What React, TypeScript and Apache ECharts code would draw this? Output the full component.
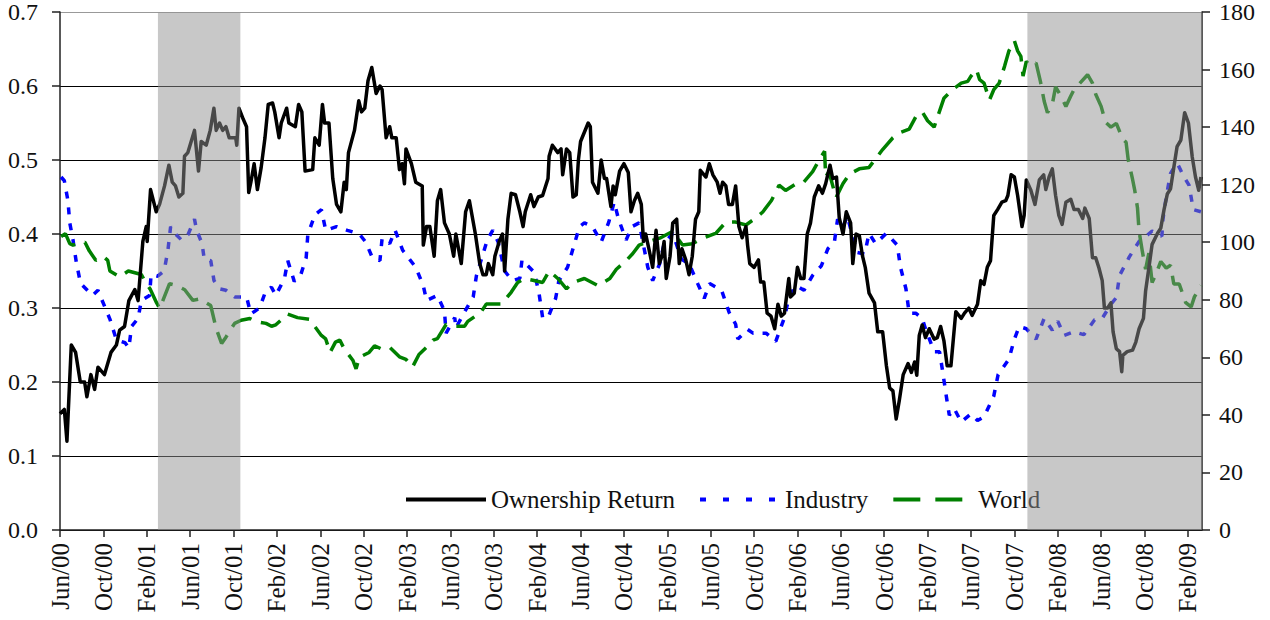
import React, { useEffect, useRef } from 'react';
import * as echarts from 'echarts';

// x values are months elapsed since June 2000 (0 = Jun/00)
const MONTH_NAMES = ['Jan', 'Feb', 'Mar', 'Apr', 'May', 'Jun', 'Jul', 'Aug', 'Sep', 'Oct', 'Nov', 'Dec'];
const START_YEAR = 2000;
const START_MONTH = 5; // June
const X_MAX = 105.3;
const LABEL_STEP = 4;

const leftTicks = { min: 0, max: 0.7, interval: 0.1 };
const rightTicks = { min: 0, max: 180, interval: 20 };

// Recession periods (shaded), in months since Jun/00
const recessionStart = [9.03, 89.2];
const recessionEnd = [16.63, 105.3];

// Ownership Return (left axis)
const ownershipReturn: [number, number][] = [
  [0, 0.157], [0.4, 0.163], [0.64, 0.12], [1.04, 0.25], [1.44, 0.24], [1.87, 0.2], [2.27, 0.2], [2.48, 0.18],
  [2.85, 0.21], [3.19, 0.19], [3.5, 0.22], [4.1, 0.21], [4.7, 0.24], [5.2, 0.25], [5.5, 0.27], [5.95, 0.275],
  [6.35, 0.31], [6.9, 0.325], [7.2, 0.31], [7.64, 0.39], [7.95, 0.41], [8.04, 0.39], [8.35, 0.46], [8.87, 0.43],
  [9.18, 0.44], [9.64, 0.465], [10.04, 0.493], [10.35, 0.47], [10.65, 0.465], [10.96, 0.45], [11.33, 0.455],
  [11.48, 0.505], [11.79, 0.51], [12.4, 0.54], [12.77, 0.485], [13.02, 0.525], [13.48, 0.52], [13.85, 0.54],
  [14.19, 0.57], [14.4, 0.54], [14.71, 0.55], [15.0, 0.54], [15.3, 0.545], [15.6, 0.53], [16.2, 0.53], [16.3, 0.52],
  [16.5, 0.57], [16.9, 0.555], [17.2, 0.545], [17.4, 0.456], [17.6, 0.47], [17.9, 0.495], [18.2, 0.46], [18.55, 0.49],
  [18.9, 0.53], [19.2, 0.575], [19.6, 0.577], [19.8, 0.565], [20.2, 0.53], [20.4, 0.55], [20.9, 0.57], [21.1, 0.55],
  [21.7, 0.545], [22.0, 0.575], [22.3, 0.565], [22.6, 0.485], [23.3, 0.487], [23.5, 0.53], [23.9, 0.52], [24.2, 0.575],
  [24.4, 0.55], [24.8, 0.55], [25.15, 0.475], [25.5, 0.44], [25.9, 0.43], [26.2, 0.47], [26.4, 0.46], [26.6, 0.51],
  [27.15, 0.54], [27.55, 0.58], [27.8, 0.565], [28.1, 0.57], [28.4, 0.607], [28.75, 0.625], [29.15, 0.59], [29.5, 0.6],
  [29.7, 0.595], [30.07, 0.53], [30.4, 0.545], [30.6, 0.53], [31.0, 0.53], [31.3, 0.487], [31.55, 0.495], [31.76, 0.468],
  [31.9, 0.515], [32.4, 0.495], [32.8, 0.47], [33.4, 0.465], [33.5, 0.385], [33.8, 0.41], [34.1, 0.41], [34.5, 0.37],
  [34.8, 0.445], [35.1, 0.46], [35.45, 0.415], [35.9, 0.4], [36.3, 0.37], [36.5, 0.4], [37.0, 0.36], [37.4, 0.43],
  [37.75, 0.445], [38.3, 0.4], [38.7, 0.36], [39.0, 0.345], [39.3, 0.345], [39.5, 0.36], [39.9, 0.345], [40.1, 0.37],
  [40.5, 0.39], [40.8, 0.4], [41.0, 0.35], [41.3, 0.42], [41.6, 0.455], [42.0, 0.453], [42.4, 0.43], [42.7, 0.41],
  [42.9, 0.43], [43.4, 0.453], [43.7, 0.437], [44.1, 0.45], [44.5, 0.452], [45.0, 0.475], [45.1, 0.505], [45.4, 0.52],
  [45.9, 0.51], [46.2, 0.515], [46.35, 0.48], [46.7, 0.515], [47.0, 0.51], [47.3, 0.45], [47.6, 0.453], [47.8, 0.5],
  [48.0, 0.525], [48.7, 0.55], [48.9, 0.545], [49.1, 0.47], [49.6, 0.455], [49.9, 0.5], [50.2, 0.475], [50.4, 0.475],
  [50.8, 0.437], [51.0, 0.465], [51.2, 0.453], [51.6, 0.485], [52.0, 0.495], [52.4, 0.483], [52.65, 0.43], [52.96, 0.445],
  [53.27, 0.455], [53.6, 0.44], [53.8, 0.39], [54.0, 0.4], [54.3, 0.38], [54.65, 0.355], [54.96, 0.405], [55.26, 0.36],
  [55.5, 0.37], [55.7, 0.39], [55.9, 0.34], [56.25, 0.37], [56.5, 0.415], [56.86, 0.42], [57.1, 0.36], [57.35, 0.38],
  [57.7, 0.365], [58.0, 0.345], [58.3, 0.37], [58.6, 0.42], [58.9, 0.43], [59.04, 0.486], [59.56, 0.477], [59.87, 0.495],
  [60.2, 0.48], [60.6, 0.47], [60.86, 0.455], [61.1, 0.47], [61.4, 0.465], [61.65, 0.44], [62.0, 0.44], [62.3, 0.465],
  [62.6, 0.41], [62.9, 0.395], [63.25, 0.41], [63.4, 0.385], [63.6, 0.36], [64.0, 0.355], [64.4, 0.365], [64.6, 0.335],
  [64.9, 0.335], [65.2, 0.293], [65.56, 0.289], [65.9, 0.272], [66.2, 0.305], [66.5, 0.289], [66.8, 0.293], [67.2, 0.34],
  [67.35, 0.315], [67.7, 0.32], [68.0, 0.355], [68.3, 0.34], [68.6, 0.34], [68.9, 0.4], [69.2, 0.415], [69.55, 0.45],
  [69.95, 0.465], [70.3, 0.455], [70.6, 0.468], [71.0, 0.493], [71.25, 0.475], [71.6, 0.477], [71.85, 0.422], [72.2, 0.4],
  [72.5, 0.43], [72.9, 0.415], [73.1, 0.36], [73.4, 0.4], [73.7, 0.398], [74.0, 0.37], [74.25, 0.355], [74.6, 0.32],
  [75.1, 0.307], [75.4, 0.268], [75.85, 0.268], [76.2, 0.222], [76.5, 0.192], [76.8, 0.188], [77.1, 0.15], [77.4, 0.176],
  [77.75, 0.21], [78.2, 0.225], [78.5, 0.213], [78.8, 0.227], [79.0, 0.209], [79.23, 0.263], [79.5, 0.277], [79.8, 0.26],
  [80.15, 0.272], [80.6, 0.258], [80.9, 0.26], [81.2, 0.275], [81.5, 0.256], [81.8, 0.222], [82.15, 0.222], [82.6, 0.295],
  [83.1, 0.286], [83.4, 0.293], [83.8, 0.3], [84.1, 0.29], [84.6, 0.305], [84.9, 0.337], [85.2, 0.332], [85.5, 0.355],
  [85.8, 0.364], [86.1, 0.425], [86.45, 0.433], [86.85, 0.443], [87.2, 0.445], [87.4, 0.452], [87.7, 0.48], [88.0, 0.477],
  [88.3, 0.452], [88.7, 0.41], [88.9, 0.425], [89.1, 0.473], [89.5, 0.46], [89.9, 0.44], [90.3, 0.473], [90.7, 0.48],
  [90.9, 0.46], [91.2, 0.477], [91.5, 0.488], [91.8, 0.452], [92.1, 0.425], [92.4, 0.413], [92.75, 0.443], [93.2, 0.447],
  [93.5, 0.433], [93.9, 0.433], [94.3, 0.421], [94.5, 0.435], [94.9, 0.421], [95.2, 0.368], [95.5, 0.368], [95.8, 0.354],
  [96.1, 0.337], [96.3, 0.3], [96.6, 0.3], [96.9, 0.307], [97.1, 0.268], [97.4, 0.245], [97.7, 0.241], [97.9, 0.214],
  [98.0, 0.236], [98.4, 0.241], [98.9, 0.243], [99.2, 0.254], [99.5, 0.272], [99.9, 0.286], [100.1, 0.323], [100.4, 0.354],
  [100.7, 0.386], [101.2, 0.401], [101.5, 0.408], [101.8, 0.433], [102.1, 0.454], [102.4, 0.461], [102.7, 0.49],
  [103.0, 0.518], [103.35, 0.527], [103.7, 0.564], [104.05, 0.55], [104.4, 0.504], [104.7, 0.477], [105.0, 0.459],
  [105.2, 0.477],
];

// Industry (left axis)
const industry: [number, number][] = [
  [0.1, 0.477], [0.4, 0.472], [0.73, 0.445], [0.9, 0.415], [1.2, 0.392], [1.5, 0.362], [1.9, 0.333], [3.0, 0.317],
  [3.5, 0.324], [4.2, 0.299], [4.6, 0.285], [5.2, 0.257], [6.0, 0.253], [6.35, 0.246], [6.6, 0.275], [7.2, 0.286],
  [7.5, 0.31], [8.26, 0.317], [8.4, 0.345], [9.0, 0.343], [9.6, 0.35], [9.95, 0.378], [10.2, 0.41], [10.65, 0.4],
  [11.2, 0.392], [11.8, 0.399], [12.4, 0.42], [12.6, 0.405], [13.1, 0.387], [13.3, 0.366], [13.9, 0.364], [14.2, 0.337],
  [14.7, 0.326], [15.3, 0.324], [16.1, 0.315], [17.2, 0.315], [17.6, 0.292], [18.4, 0.3], [19.0, 0.324], [19.5, 0.328],
  [19.9, 0.317], [20.7, 0.34], [21.0, 0.364], [21.6, 0.336], [22.2, 0.345], [22.7, 0.368], [22.85, 0.399], [23.5, 0.426],
  [24.1, 0.433], [24.5, 0.405], [25.5, 0.41], [26.5, 0.405], [27.6, 0.4], [28.2, 0.389], [28.8, 0.368], [29.5, 0.364],
  [29.7, 0.394], [30.4, 0.387], [30.9, 0.405], [31.6, 0.378], [32.8, 0.355], [33.5, 0.33], [33.8, 0.31], [34.8, 0.317],
  [35.45, 0.296], [35.6, 0.266], [36.4, 0.287], [36.5, 0.273], [37.2, 0.292], [38.1, 0.315], [38.4, 0.344], [38.9, 0.368],
  [39.4, 0.392], [39.9, 0.405], [40.4, 0.389], [41.0, 0.35], [41.7, 0.337], [42.4, 0.34], [42.6, 0.365], [43.75, 0.348],
  [44.2, 0.317], [44.5, 0.287], [45.0, 0.287], [45.7, 0.313], [46.0, 0.337], [46.8, 0.355], [47.3, 0.38], [47.9, 0.41],
  [48.35, 0.415], [49.1, 0.41], [49.9, 0.389], [50.6, 0.416], [51.1, 0.443], [51.5, 0.42], [52.2, 0.392], [52.75, 0.41],
  [53.4, 0.415], [54.2, 0.355], [54.65, 0.337], [55.3, 0.36], [55.7, 0.387], [56.5, 0.401], [57.3, 0.366], [58.0, 0.36],
  [58.8, 0.333], [59.4, 0.313], [59.9, 0.333], [61.0, 0.324], [61.7, 0.294], [62.3, 0.278], [62.5, 0.258], [63.4, 0.271],
  [63.9, 0.266], [65.1, 0.266], [66.0, 0.255], [66.8, 0.287], [67.25, 0.317], [67.9, 0.33], [68.6, 0.324], [69.4, 0.344],
  [70.2, 0.357], [70.8, 0.38], [71.4, 0.389], [71.7, 0.42], [72.2, 0.41], [72.6, 0.424], [73.1, 0.396], [73.5, 0.375],
  [74.2, 0.373], [74.6, 0.401], [75.2, 0.387], [76.2, 0.401], [77.2, 0.385], [77.5, 0.355], [78.0, 0.326], [78.3, 0.293],
  [78.9, 0.293], [79.5, 0.286], [79.8, 0.272], [80.6, 0.241], [81.1, 0.241], [81.4, 0.213], [81.7, 0.183], [82.0, 0.155],
  [82.45, 0.164], [83.1, 0.146], [84.0, 0.157], [84.6, 0.148], [85.2, 0.153], [86.1, 0.181], [86.5, 0.21], [87.5, 0.231],
  [88.0, 0.258], [88.45, 0.275], [89.1, 0.272], [90.0, 0.258], [90.75, 0.286], [91.5, 0.27], [92.0, 0.282], [92.6, 0.263],
  [93.5, 0.268], [94.4, 0.264], [95.4, 0.284], [96.1, 0.286], [96.9, 0.305], [97.4, 0.314], [97.7, 0.344], [98.6, 0.369],
  [99.5, 0.39], [100.3, 0.399], [100.7, 0.404], [101.6, 0.397], [101.7, 0.42], [102.0, 0.45], [102.4, 0.482],
  [103.0, 0.496], [103.65, 0.477], [104.1, 0.466], [104.5, 0.433], [105.2, 0.43],
];

// World (right axis)
const world: [number, number][] = [
  [0.1, 102], [0.5, 103], [0.9, 99.5], [1.2, 99], [2.3, 100], [2.7, 97], [3.3, 93.7], [4.0, 95], [4.4, 93.7], [4.6, 90],
  [5.5, 88], [6.3, 90], [7.5, 88.8], [7.95, 85.6], [8.3, 83.8], [8.9, 79], [9.2, 77], [10.1, 85.6], [10.7, 85],
  [11.5, 83.5], [12.25, 79.8], [12.9, 80.3], [13.9, 78], [14.4, 70], [14.9, 64.8], [15.3, 67], [16.1, 71.8],
  [16.7, 72.9], [17.5, 73.5], [18.1, 72.4], [19.0, 71.8], [19.5, 70.8], [19.9, 71.3], [21.0, 75], [21.9, 73.8],
  [23.0, 73.2], [24.1, 67.6], [24.5, 66.4], [24.9, 61.7], [25.4, 65.3], [25.8, 66], [26.2, 63], [27.0, 59], [27.3, 56],
  [27.6, 60], [28.5, 61.7], [29.0, 64], [29.6, 63], [30.4, 63.5], [31.3, 60.2], [31.9, 59.3], [32.5, 56.6], [33.1, 61],
  [33.8, 63.5], [34.4, 66], [34.8, 66.5], [35.6, 71.4], [36.4, 70.8], [37.3, 70.8], [37.6, 72.5], [38.8, 75.6],
  [39.3, 78.5], [40.7, 78.5], [41.6, 82.6], [42.2, 86], [42.8, 87.4], [43.6, 86.8], [44.5, 86], [45.1, 90], [45.9, 87.4],
  [46.7, 83.8], [47.3, 86], [48.35, 87.4], [49.6, 84.9], [50.7, 87.4], [51.3, 90.6], [52.2, 93.6], [52.8, 96], [53.4, 99],
  [54.3, 100.3], [55.3, 101.4], [55.9, 102.6], [56.5, 103.8], [57.4, 99], [58.3, 99.5], [59.3, 101.4], [60.5, 103.2],
  [61.4, 107], [62.3, 107], [63.25, 106], [64.0, 108], [64.8, 110.5], [65.6, 114.5], [66.3, 119.8], [66.9, 118],
  [67.9, 120.4], [68.6, 121], [69.4, 124.5], [70.0, 128.6], [70.5, 131.6], [70.6, 122.7], [70.9, 124.5], [71.55, 115.5],
  [72.2, 120.4], [72.8, 123.7], [73.7, 125.5], [74.6, 126], [75.85, 132.2], [76.8, 136.3], [77.4, 138], [78.3, 139.3],
  [78.9, 143.5], [79.5, 145.3], [80.0, 142.2], [80.6, 140], [81.5, 150], [82.3, 153], [83.1, 155.3], [83.7, 155.9],
  [84.0, 157.7], [84.5, 160], [84.8, 156.5], [85.2, 155.3], [85.7, 149.4], [86.1, 153], [86.6, 155.3], [87.1, 161.2],
  [87.5, 166.5], [88.0, 170], [88.3, 166.5], [88.6, 164.6], [88.8, 157.7], [89.1, 162.8], [89.6, 161.2], [90.0, 162.3],
  [90.4, 155.9], [90.75, 149], [91.05, 145], [91.5, 148], [91.8, 154], [92.3, 150.8], [92.75, 147.2], [93.2, 150.8],
  [93.5, 153], [94.75, 158.2], [95.2, 155.3], [95.5, 151.4], [96.0, 147.2], [96.4, 141.7], [96.9, 140], [97.4, 141.3],
  [98.0, 135.8], [98.3, 134.7], [98.5, 128.6], [98.9, 121.8], [99.1, 118], [99.35, 112], [99.5, 103.8], [99.8, 96.8],
  [100.1, 90.6], [100.4, 96.2], [100.7, 86], [101.0, 88.5], [101.5, 93.3], [102.0, 91], [102.4, 92], [102.7, 85.5],
  [103.2, 85.5], [103.8, 79], [104.3, 77.5], [104.6, 81], [105.2, 85],
];

const FONT = 'Liberation Serif';

function monthLabel(v: number): string {
  if (Math.abs(v % LABEL_STEP) > 1e-6) return '';
  const total = START_MONTH + Math.round(v);
  const year = START_YEAR + Math.floor(total / 12);
  const m = total % 12;
  return MONTH_NAMES[m] + '/' + String(year % 100).padStart(2, '0');
}

export default function App() {
  const ref = useRef<HTMLDivElement>(null);

  useEffect(() => {
    if (!ref.current) return;
    const chart = echarts.init(ref.current, undefined, { renderer: 'svg' });
    const shading = recessionStart.map((s, i) => [s, recessionEnd[i]]);

    chart.setOption({
      animation: false,
      backgroundColor: '#fff',
      grid: { left: 60, right: 68, top: 11, bottom: 90, containLabel: false },
      legend: {
        left: 399,
        top: 482,
        itemWidth: 80,
        itemHeight: 2,
        itemGap: 23,
        itemStyle: { opacity: 0 },
        textStyle: { fontFamily: FONT, fontSize: 25, color: '#111' },
        data: [
          { name: 'Ownership Return', lineStyle: { width: 4 } },
          { name: 'Industry', lineStyle: { type: [6, 17], width: 4 } },
          { name: 'World', lineStyle: { type: [27, 15], width: 4 } },
        ],
      },
      xAxis: {
        type: 'value',
        min: 0,
        max: X_MAX,
        interval: LABEL_STEP,
        splitLine: { show: false },
        axisLine: { show: true, lineStyle: { color: '#222', width: 1.5 } },
        axisTick: { show: true, length: 7, lineStyle: { color: '#222', width: 1.5 } },
        axisLabel: {
          rotate: 90,
          margin: 13,
          showMaxLabel: false,
          fontFamily: FONT,
          fontSize: 25,
          color: '#111',
          formatter: monthLabel,
        },
      },
      yAxis: [
        {
          type: 'value',
          position: 'left',
          min: leftTicks.min,
          max: leftTicks.max,
          interval: leftTicks.interval,
          axisLine: { show: true, lineStyle: { color: '#222', width: 1.5 } },
          axisTick: { show: true, length: 8, lineStyle: { color: '#222', width: 1.5 } },
          splitLine: {
            show: true,
            lineStyle: { color: ['#000', '#000', '#000', '#000', '#000', '#000', '#000', '#999'], width: 1 },
          },
          axisLabel: {
            margin: 22,
            fontFamily: FONT,
            fontSize: 24,
            color: '#111',
            formatter: (v: number) => v.toFixed(1),
          },
        },
        {
          type: 'value',
          position: 'right',
          min: rightTicks.min,
          max: rightTicks.max,
          interval: rightTicks.interval,
          axisLine: { show: true, lineStyle: { color: '#222', width: 1.5 } },
          axisTick: { show: true, length: 8, lineStyle: { color: '#222', width: 1.5 } },
          splitLine: { show: false },
          axisLabel: { margin: 17, fontFamily: FONT, fontSize: 24, color: '#111' },
        },
      ],
      series: [
        {
          name: 'Ownership Return',
          type: 'line',
          yAxisIndex: 0,
          data: ownershipReturn,
          symbol: 'none',
          lineStyle: { color: '#000', width: 3.5, join: 'round' },
          itemStyle: { color: '#000' },
          z: 4,
        },
        {
          name: 'Industry',
          type: 'line',
          yAxisIndex: 0,
          data: industry,
          symbol: 'none',
          lineStyle: { color: '#0000ff', width: 3.5, type: [7, 9] },
          itemStyle: { color: '#0000ff' },
          z: 3,
        },
        {
          name: 'World',
          type: 'line',
          yAxisIndex: 1,
          data: world,
          symbol: 'none',
          lineStyle: { color: '#008000', width: 3.5, type: [22, 10] },
          itemStyle: { color: '#008000' },
          z: 3,
        },
        {
          name: 'Recession',
          type: 'custom',
          yAxisIndex: 0,
          z: 10,
          silent: true,
          data: shading,
          encode: { x: [0, 1] },
          renderItem: (params: any, api: any) => {
            const p0 = api.coord([api.value(0), leftTicks.max]);
            const p1 = api.coord([api.value(1), leftTicks.min]);
            return {
              type: 'rect',
              shape: { x: p0[0], y: p0[1], width: p1[0] - p0[0], height: p1[1] - p0[1] },
              style: { fill: 'rgba(146,146,146,0.5)' },
            };
          },
        },
      ],
    });
    return () => chart.dispose();
  }, []);

  return (
    <div
      ref={ref}
      style={{ position: 'absolute', left: 0, top: 0, width: 1270, height: 620, background: '#fff' }}
    />
  );
}
